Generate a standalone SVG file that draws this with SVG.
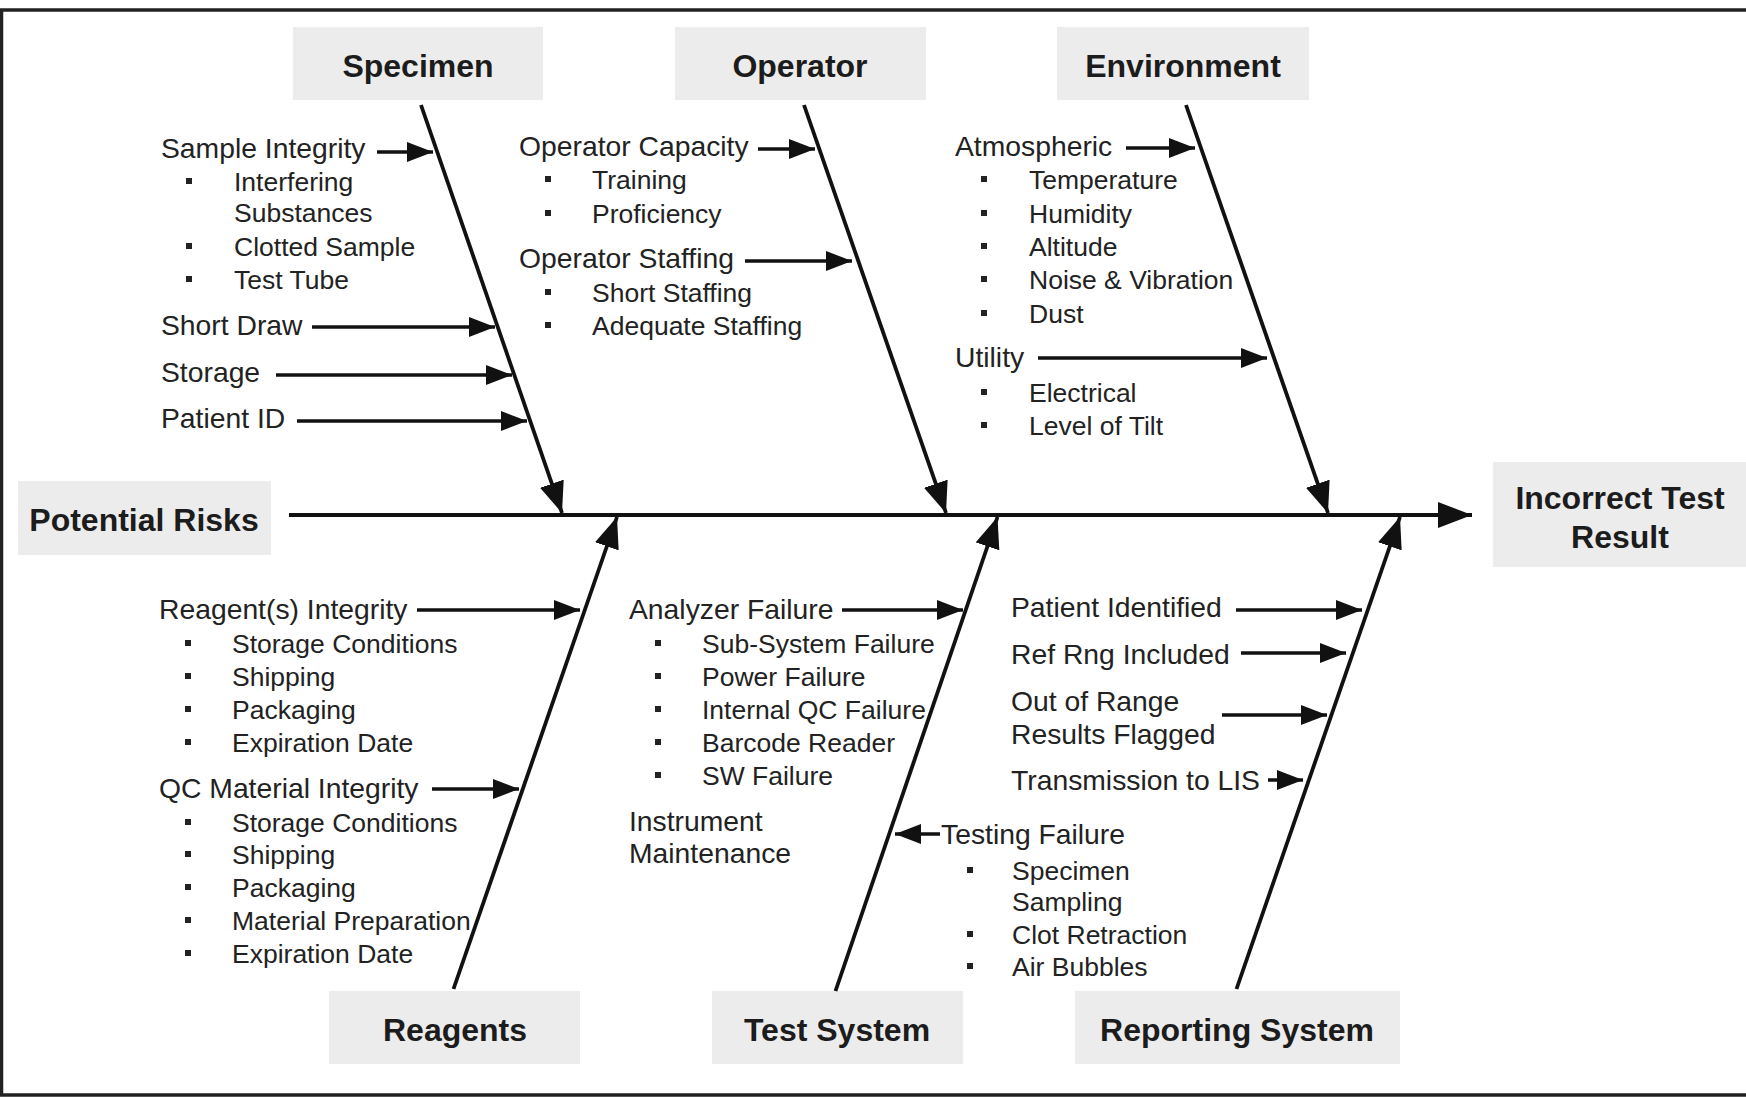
<svg xmlns="http://www.w3.org/2000/svg" width="1746" height="1097" viewBox="0 0 1746 1097">
  <style>
    .box { fill: #ececec; }
    .hdr { font-family: "Liberation Sans", Arial, sans-serif; font-weight: bold; font-size: 32px; fill: #1c1c1c; text-anchor: middle; }
    .t { font-family: "Liberation Sans", Arial, sans-serif; font-size: 28.3px; fill: #222; }
    .s { font-family: "Liberation Sans", Arial, sans-serif; font-size: 26.5px; fill: #222; }
    .bul { fill: #222; }
    .bone { stroke: #111; stroke-width: 3.8; fill: none; }
    .sm { stroke: #111; stroke-width: 3.6; fill: none; }
    .frame { stroke: #222; stroke-width: 3.5; fill: none; }
  </style>
  <defs>
    <marker id="headL" markerUnits="userSpaceOnUse" markerWidth="31" markerHeight="25" refX="31" refY="12.5" orient="auto">
      <path d="M0,0 L31,12.5 L0,25 z" fill="#111"/>
    </marker>
    <marker id="headS" markerUnits="userSpaceOnUse" markerWidth="26" markerHeight="20" refX="26" refY="10" orient="auto">
      <path d="M0,0 L26,10 L0,20 z" fill="#111"/>
    </marker>
    <marker id="headSpine" markerUnits="userSpaceOnUse" markerWidth="34" markerHeight="26" refX="34" refY="13" orient="auto">
      <path d="M0,0 L34,13 L0,26 z" fill="#111"/>
    </marker>
    <rect id="b" class="bul" x="-3" y="-3" width="6" height="6"/>
  </defs>

  <rect width="1746" height="1097" fill="#ffffff"/>
  <path class="frame" d="M1746,10 H1.5 V1095 H1746"/>

  <!-- Nodes: category boxes -->
  <g id="node-specimen">
    <rect class="box" x="293" y="27" width="250" height="73"/>
    <text class="hdr" x="418" y="77">Specimen</text>
  </g>
  <g id="node-operator">
    <rect class="box" x="675" y="27" width="251" height="73"/>
    <text class="hdr" x="800" y="77">Operator</text>
  </g>
  <g id="node-environment">
    <rect class="box" x="1057" y="27" width="252" height="73"/>
    <text class="hdr" x="1183" y="77">Environment</text>
  </g>
  <g id="node-potential-risks">
    <rect class="box" x="18" y="481" width="253" height="74"/>
    <text class="hdr" x="144" y="531">Potential Risks</text>
  </g>
  <g id="node-incorrect-test-result">
    <rect class="box" x="1493" y="462" width="253" height="105"/>
    <text class="hdr" x="1620" y="509">Incorrect Test</text>
    <text class="hdr" x="1620" y="548">Result</text>
  </g>
  <g id="node-reagents">
    <rect class="box" x="329" y="991" width="251" height="73"/>
    <text class="hdr" x="455" y="1041">Reagents</text>
  </g>
  <g id="node-test-system">
    <rect class="box" x="712" y="991" width="251" height="73"/>
    <text class="hdr" x="837" y="1041">Test System</text>
  </g>
  <g id="node-reporting-system">
    <rect class="box" x="1075" y="991" width="325" height="73"/>
    <text class="hdr" x="1237" y="1041">Reporting System</text>
  </g>

  <!-- Cause lists -->
  <g id="causes-specimen">
    <text class="t" x="161" y="158">Sample Integrity</text>
    <use href="#b" x="189" y="181"/>
    <text class="s" x="234" y="191">Interfering</text>
    <text class="s" x="234" y="222">Substances</text>
    <use href="#b" x="189" y="246"/>
    <text class="s" x="234" y="256">Clotted Sample</text>
    <use href="#b" x="189" y="279"/>
    <text class="s" x="234" y="289">Test Tube</text>
    <text class="t" x="161" y="335">Short Draw</text>
    <text class="t" x="161" y="382">Storage</text>
    <text class="t" x="161" y="428">Patient ID</text>
  </g>
  <g id="causes-operator">
    <text class="t" x="519" y="156">Operator Capacity</text>
    <use href="#b" x="548" y="179"/>
    <text class="s" x="592" y="189">Training</text>
    <use href="#b" x="548" y="213"/>
    <text class="s" x="592" y="223">Proficiency</text>
    <text class="t" x="519" y="268">Operator Staffing</text>
    <use href="#b" x="548" y="292"/>
    <text class="s" x="592" y="302">Short Staffing</text>
    <use href="#b" x="548" y="325"/>
    <text class="s" x="592" y="335">Adequate Staffing</text>
  </g>
  <g id="causes-environment">
    <text class="t" x="955" y="156">Atmospheric</text>
    <use href="#b" x="984" y="179"/>
    <text class="s" x="1029" y="189">Temperature</text>
    <use href="#b" x="984" y="213"/>
    <text class="s" x="1029" y="223">Humidity</text>
    <use href="#b" x="984" y="246"/>
    <text class="s" x="1029" y="256">Altitude</text>
    <use href="#b" x="984" y="279"/>
    <text class="s" x="1029" y="289">Noise &amp; Vibration</text>
    <use href="#b" x="984" y="313"/>
    <text class="s" x="1029" y="323">Dust</text>
    <text class="t" x="955" y="367">Utility</text>
    <use href="#b" x="984" y="392"/>
    <text class="s" x="1029" y="402">Electrical</text>
    <use href="#b" x="984" y="425"/>
    <text class="s" x="1029" y="435">Level of Tilt</text>
  </g>
  <g id="causes-reagents">
    <text class="t" x="159" y="619">Reagent(s) Integrity</text>
    <use href="#b" x="188" y="643"/>
    <text class="s" x="232" y="653">Storage Conditions</text>
    <use href="#b" x="188" y="676"/>
    <text class="s" x="232" y="686">Shipping</text>
    <use href="#b" x="188" y="709"/>
    <text class="s" x="232" y="719">Packaging</text>
    <use href="#b" x="188" y="742"/>
    <text class="s" x="232" y="752">Expiration Date</text>
    <text class="t" x="159" y="798">QC Material Integrity</text>
    <use href="#b" x="188" y="822"/>
    <text class="s" x="232" y="832">Storage Conditions</text>
    <use href="#b" x="188" y="854"/>
    <text class="s" x="232" y="864">Shipping</text>
    <use href="#b" x="188" y="887"/>
    <text class="s" x="232" y="897">Packaging</text>
    <use href="#b" x="188" y="920"/>
    <text class="s" x="232" y="930">Material Preparation</text>
    <use href="#b" x="188" y="953"/>
    <text class="s" x="232" y="963">Expiration Date</text>
  </g>
  <g id="causes-test-system">
    <text class="t" x="629" y="619">Analyzer Failure</text>
    <use href="#b" x="658" y="643"/>
    <text class="s" x="702" y="653">Sub-System Failure</text>
    <use href="#b" x="658" y="676"/>
    <text class="s" x="702" y="686">Power Failure</text>
    <use href="#b" x="658" y="709"/>
    <text class="s" x="702" y="719">Internal QC Failure</text>
    <use href="#b" x="658" y="742"/>
    <text class="s" x="702" y="752">Barcode Reader</text>
    <use href="#b" x="658" y="775"/>
    <text class="s" x="702" y="785">SW Failure</text>
    <text class="t" x="629" y="831">Instrument</text>
    <text class="t" x="629" y="863">Maintenance</text>
    <text class="t" x="941" y="844">Testing Failure</text>
    <use href="#b" x="970" y="870"/>
    <text class="s" x="1012" y="880">Specimen</text>
    <text class="s" x="1012" y="911">Sampling</text>
    <use href="#b" x="970" y="934"/>
    <text class="s" x="1012" y="944">Clot Retraction</text>
    <use href="#b" x="970" y="966"/>
    <text class="s" x="1012" y="976">Air Bubbles</text>
  </g>
  <g id="causes-reporting-system">
    <text class="t" x="1011" y="617">Patient Identified</text>
    <text class="t" x="1011" y="664">Ref Rng Included</text>
    <text class="t" x="1011" y="711">Out of Range</text>
    <text class="t" x="1011" y="744">Results Flagged</text>
    <text class="t" x="1011" y="790">Transmission to LIS</text>
  </g>

  <!-- Connectors -->
  <g id="connectors">
    <line class="bone" x1="289" y1="515" x2="1472" y2="515" stroke-width="4" marker-end="url(#headSpine)"/>
    <line class="bone" x1="421" y1="105" x2="562" y2="513" marker-end="url(#headL)"/>
    <line class="bone" x1="804" y1="105" x2="946" y2="513" marker-end="url(#headL)"/>
    <line class="bone" x1="1186" y1="105" x2="1328" y2="513" marker-end="url(#headL)"/>
    <line class="bone" x1="453.5" y1="989" x2="617" y2="517" marker-end="url(#headL)"/>
    <line class="bone" x1="835.5" y1="991" x2="997.5" y2="517" marker-end="url(#headL)"/>
    <line class="bone" x1="1236.5" y1="989" x2="1400" y2="517" marker-end="url(#headL)"/>

    <line class="sm" x1="377" y1="152" x2="433" y2="152" marker-end="url(#headS)"/>
    <line class="sm" x1="312" y1="327" x2="495" y2="327" marker-end="url(#headS)"/>
    <line class="sm" x1="276" y1="375" x2="512" y2="375" marker-end="url(#headS)"/>
    <line class="sm" x1="297" y1="421" x2="527" y2="421" marker-end="url(#headS)"/>

    <line class="sm" x1="758" y1="149" x2="815" y2="149" marker-end="url(#headS)"/>
    <line class="sm" x1="745" y1="261" x2="852" y2="261" marker-end="url(#headS)"/>

    <line class="sm" x1="1126" y1="148" x2="1195" y2="148" marker-end="url(#headS)"/>
    <line class="sm" x1="1038" y1="358" x2="1267" y2="358" marker-end="url(#headS)"/>

    <line class="sm" x1="417" y1="610" x2="580" y2="610" marker-end="url(#headS)"/>
    <line class="sm" x1="432" y1="789" x2="519" y2="789" marker-end="url(#headS)"/>

    <line class="sm" x1="842" y1="610" x2="963" y2="610" marker-end="url(#headS)"/>
    <line class="sm" x1="940" y1="834" x2="895" y2="834" marker-end="url(#headS)"/>

    <line class="sm" x1="1236" y1="610" x2="1362" y2="610" marker-end="url(#headS)"/>
    <line class="sm" x1="1241" y1="653" x2="1346" y2="653" marker-end="url(#headS)"/>
    <line class="sm" x1="1222" y1="715" x2="1327" y2="715" marker-end="url(#headS)"/>
    <line class="sm" x1="1268" y1="780" x2="1303" y2="780" marker-end="url(#headS)"/>
  </g>
</svg>
